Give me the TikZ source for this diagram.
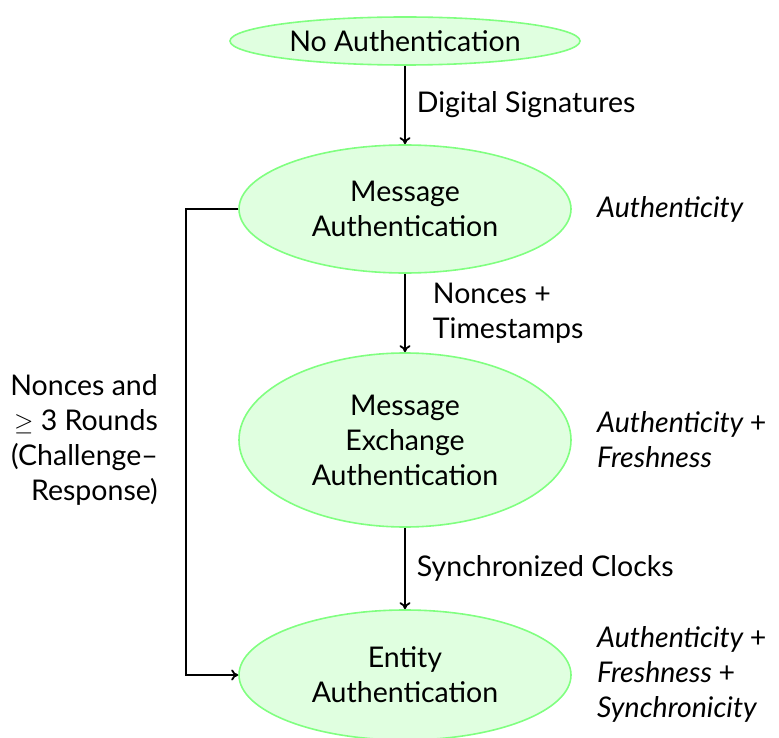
\documentclass[tikz,border=0pt]{standalone}
\usepackage{fontspec}
\setmainfont{Lato}
\usetikzlibrary{shapes.geometric,arrows.meta}
\begin{document}
\begin{tikzpicture}[x=1pt,y=-1pt,
  state/.style={ellipse,draw=green!50,fill=green!12,line width=1.6pt,
    align=center,inner sep=0pt,font=\fontsize{28.5}{35}\selectfont},
  lbl/.style={font=\fontsize{28.5}{35}\selectfont,inner sep=0pt},
  side/.style={font=\fontsize{28.5}{35}\selectfont\itshape,inner sep=0pt,align=left,anchor=west},
  conn/.style={-{To[length=7pt,width=11pt]},line width=1.8pt}]
\useasboundingbox (0,0) rectangle (779,738);
\node[state,minimum width=350pt,minimum height=48pt] (n1) at (405,41) {No Authentication};
\node[state,minimum width=332pt,minimum height=128pt] (n2) at (405,209) {Message\\Authentication};
\node[state,minimum width=332pt,minimum height=174pt] (n3) at (405,440) {Message\\Exchange\\Authentication};
\node[state,minimum width=332pt,minimum height=130pt] (n4) at (405,675) {Entity\\Authentication};
\draw[conn] (n1) -- (n2) node[midway,right=11pt,lbl] (l1) {Digital Signatures};
\draw[conn] (n2) -- (n3) node[midway,right=27pt,lbl,align=left] (l2) {Nonces +\\Timestamps};
\draw[conn] (n3) -- (n4) node[midway,right=11pt,lbl] (l3) {Synchronized Clocks};
\coordinate (c1) at (186,209);
\coordinate (c2) at (186,675);
\draw[conn] (n2.west) -- (c1) -- (c2) -- (n4.west);
\node[lbl,align=right,anchor=east] (l4) at (158,440) {Nonces and\\$\geq$ 3 Rounds\\(Challenge–\\Response)};
\node[side] (s2) at (597,209) {Authenticity};
\node[side] (s3) at (597,440) {Authenticity \upshape{+}\\Freshness};
\node[side] (s4) at (597,674) {Authenticity \upshape{+}\\Freshness \upshape{+}\\Synchronicity};
\end{tikzpicture}
\end{document}
